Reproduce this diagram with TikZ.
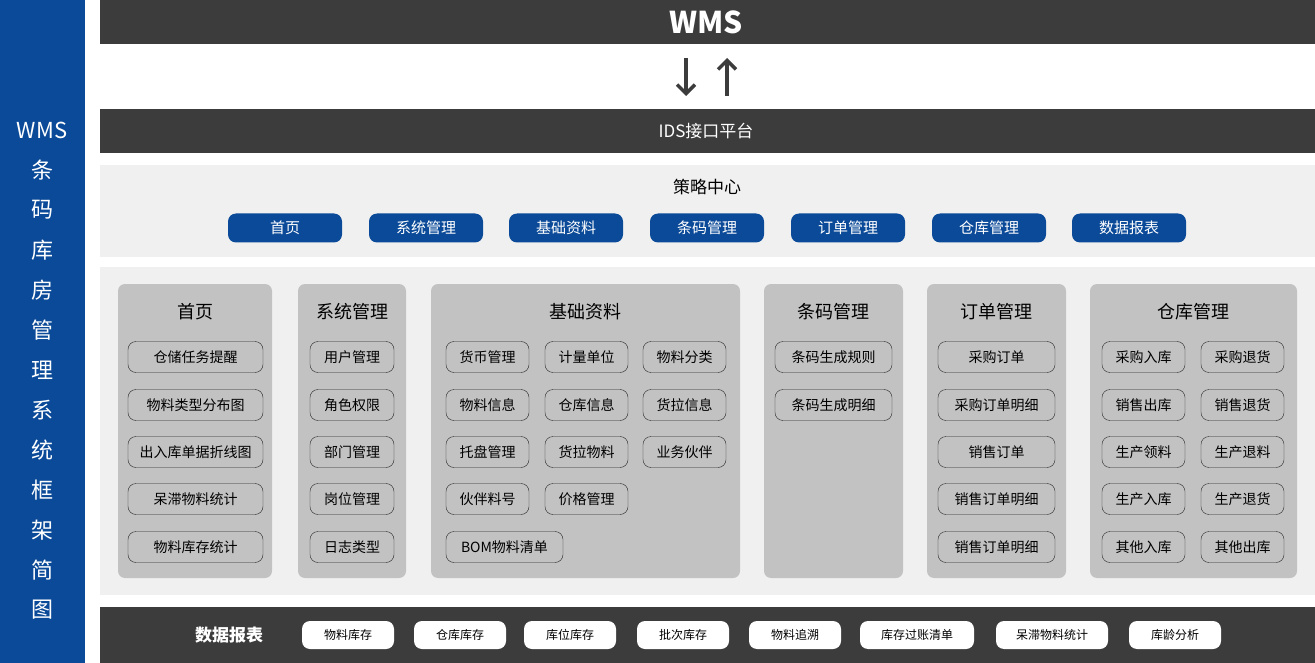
\documentclass[tikz,border=0pt]{standalone}
\usepackage{fontspec}
\setmainfont{Noto Sans CJK SC}
\usetikzlibrary{arrows.meta}
\definecolor{dk}{HTML}{3C3C3C}
\definecolor{bl}{HTML}{0B4A98}
\definecolor{lg}{HTML}{F0F0F0}
\definecolor{cg}{HTML}{C2C2C2}
\tikzset{
 colbox/.style={fill=cg,rounded corners=7pt,draw=none},
 item/.style={draw=black!85,fill=cg,rounded corners=8pt,minimum height=31pt,font=\fontsize{14}{14}\selectfont,inner sep=0pt},
 btn/.style={fill=bl,rounded corners=8pt,minimum width=114pt,minimum height=29pt,text=white,font=\fontsize{15}{15}\selectfont,inner sep=0pt},
 pill/.style={fill=white,rounded corners=8pt,minimum height=28pt,font=\fontsize{12}{12}\selectfont,inner sep=0pt},
 ttl/.style={font=\fontsize{18}{18}\selectfont},
 vch/.style={text=white,font=\fontsize{22}{22}\selectfont},
}
\begin{document}
\begin{tikzpicture}[x=1pt,y=-1pt]
\useasboundingbox (0,0) rectangle (1315,663);
\fill[white] (0,0) rectangle (1315,663);
% left bar
\fill[bl] (0,0) rectangle (85,663);
\node[vch] (lw) at (42,130) {WMS};
\foreach \c [count=\i] in {条,码,库,房,管,理,系,统,框,架,简,图}
  \node[vch] (lc\i) at (42,130+40*\i) {\c};
% top bars
\fill[dk] (100,0) rectangle (1315,44);
\node[text=white,font=\bfseries\fontsize{30}{30}\selectfont] (wms) at (706,22) {WMS};
\coordinate (a1t) at (686,58); \coordinate (a1b) at (686,96);
\coordinate (a2t) at (727,58); \coordinate (a2b) at (727,96);
\draw[dk,line width=3.5pt,-{Straight Barb[length=9pt,width=18pt,line width=3.5pt]}] (a1t) -- (a1b);
\draw[dk,line width=3.5pt,-{Straight Barb[length=9pt,width=18pt,line width=3.5pt]}] (a2b) -- (a2t);
\fill[dk] (100,109) rectangle (1315,153);
\node[text=white,font=\fontsize{17}{17}\selectfont] (ids) at (706,131) {IDS接口平台};
% strategy
\fill[lg] (100,165) rectangle (1315,257);
\node[font=\fontsize{17}{17}\selectfont] (clzx) at (707,187) {策略中心};
\foreach \t/\x [count=\i] in {首页/285,系统管理/426,基础资料/566,条码管理/707,订单管理/848,仓库管理/989,数据报表/1129}
  \node[btn] (b\i) at (\x,228) {\t};
% main panel
\fill[lg] (100,267) rectangle (1315,595);
\fill[colbox] (118,284) rectangle (272,578);
\fill[colbox] (298,284) rectangle (406,578);
\fill[colbox] (431,284) rectangle (740,578);
\fill[colbox] (764,284) rectangle (903,578);
\fill[colbox] (927,284) rectangle (1066,578);
\fill[colbox] (1090,284) rectangle (1297,578);
\node[ttl] (t1) at (195,312) {首页};
\node[ttl] (t2) at (352,312) {系统管理};
\node[ttl] (t3) at (585,312) {基础资料};
\node[ttl] (t4) at (833,312) {条码管理};
\node[ttl] (t5) at (996,312) {订单管理};
\node[ttl] (t6) at (1193,312) {仓库管理};
\def\ys{{357,405,452,499,547}}
\foreach \t [count=\i] in {仓储任务提醒,物料类型分布图,出入库单据折线图,呆滞物料统计,物料库存统计}
  \node[item,minimum width=135pt] (h\i) at (195.5,{\ys[\i-1]}) {\t};
\foreach \t [count=\i] in {用户管理,角色权限,部门管理,岗位管理,日志类型}
  \node[item,minimum width=84pt] (s\i) at (352,{\ys[\i-1]}) {\t};
\foreach \t/\x/\r [count=\i] in {货币管理/487.5/0,计量单位/586.5/0,物料分类/684.5/0,物料信息/487.5/1,仓库信息/586.5/1,货拉信息/684.5/1,托盘管理/487.5/2,货拉物料/586.5/2,业务伙伴/684.5/2,伙伴料号/487.5/3,价格管理/586.5/3}
  \node[item,minimum width=83pt] (j\i) at (\x,{\ys[\r]}) {\t};
\node[item,minimum width=117pt] (j12) at (504.5,547) {BOM物料清单};
\node[item,minimum width=117pt] (m1) at (833.5,357) {条码生成规则};
\node[item,minimum width=117pt] (m2) at (833.5,405) {条码生成明细};
\foreach \t [count=\i] in {采购订单,采购订单明细,销售订单,销售订单明细,销售订单明细}
  \node[item,minimum width=117pt] (o\i) at (996.5,{\ys[\i-1]}) {\t};
\foreach \a/\b [count=\i] in {采购入库/采购退货,销售出库/销售退货,生产领料/生产退料,生产入库/生产退货,其他入库/其他出库}{
  \node[item,minimum width=83pt] (wa\i) at (1143.5,{\ys[\i-1]}) {\a};
  \node[item,minimum width=83pt] (wb\i) at (1242.5,{\ys[\i-1]}) {\b};}
% bottom
\fill[dk] (100,607) rectangle (1315,663);
\node[text=white,font=\bfseries\fontsize{17}{17}\selectfont] (sjbb) at (229,635) {数据报表};
\foreach \t/\x/\w [count=\i] in {物料库存/348/92,仓库库存/460/92,库位库存/570/92,批次库存/683/92,物料追溯/795/92,库存过账清单/917/114,呆滞物料统计/1052/112,库龄分析/1175/92}
  \node[pill,minimum width=\w pt] (p\i) at (\x,635) {\t};
\end{tikzpicture}
\end{document}
